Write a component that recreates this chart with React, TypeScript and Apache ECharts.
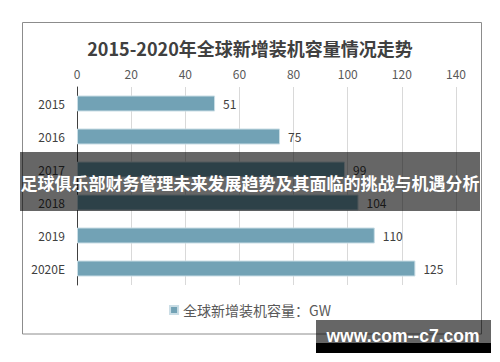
import React, { useEffect, useRef } from "react";
import * as echarts from "echarts";

const categories = ["2015", "2016", "2017", "2018", "2019", "2020E"];
const values = [51, 75, 99, 104, 110, 125];
const seriesName = "全球新增装机容量：GW";
const titleText = "2015-2020年全球新增装机容量情况走势";
const bannerText = "足球俱乐部财务管理未来发展趋势及其面临的挑战与机遇分析";
const watermarkText = "www.com--c7.com";

const FONT = "'Noto Sans CJK SC', 'Noto Sans', sans-serif";

export default function App() {
  const ref = useRef<HTMLDivElement>(null);
  useEffect(() => {
    document.body.style.margin = "0";
    const chart = echarts.init(ref.current!, undefined, { renderer: "svg" });
    chart.setOption({
      animation: false,
      backgroundColor: "#ffffff",
      textStyle: { fontFamily: FONT },
      title: {
        text: titleText,
        left: "center",
        top: 34,
        textStyle: { fontSize: 18, fontWeight: "bold", color: "#404040", fontFamily: FONT },
      },
      grid: { left: 77, right: 44, top: 87, bottom: 77, containLabel: false },
      xAxis: {
        type: "value",
        position: "top",
        min: 0,
        max: 140,
        interval: 20,
        axisLine: { show: false },
        axisTick: { show: false },
        axisLabel: { color: "#595959", fontSize: 12, margin: 8, fontFamily: FONT },
        splitLine: { lineStyle: { color: "#d9d9d9", width: 1 } },
      },
      yAxis: {
        type: "category",
        inverse: true,
        data: categories,
        axisLine: { show: true, lineStyle: { color: "#404040", width: 1 } },
        axisTick: { show: false },
        axisLabel: { color: "#404040", fontSize: 12, margin: 12, fontFamily: FONT },
      },
      legend: {
        bottom: 40,
        left: "center",
        icon: "rect",
        itemWidth: 8,
        itemHeight: 8,
        itemGap: 6,
        textStyle: { fontSize: 14, color: "#595959", fontFamily: FONT },
        data: [seriesName],
      },
      series: [
        {
          name: seriesName,
          type: "bar",
          data: values,
          barWidth: 16,
          itemStyle: { color: "#72a2b5", borderColor: "#c9dde5", borderWidth: 1 },
          label: {
            show: true,
            position: "right",
            distance: 8,
            color: "#404040",
            fontSize: 12,
            fontFamily: FONT,
          },
        },
      ],
      graphic: [
        {
          type: "rect",
          z: 90,
          shape: { x: 22.5, y: 22.5, width: 459, height: 311.5 },
          style: { fill: "none", stroke: "#8c8c8c", lineWidth: 1 },
        },
        {
          type: "rect",
          z: 100,
          shape: { x: 20, y: 152, width: 460, height: 59 },
          style: { fill: "rgba(0,0,0,0.6)" },
        },
        {
          type: "text",
          z: 101,
          x: 250,
          y: 182,
          style: {
            text: bannerText,
            fill: "#ffffff",
            fontSize: 17,
            fontWeight: "bold",
            fontFamily: FONT,
            align: "center",
            verticalAlign: "middle",
          },
        },
        {
          type: "rect",
          z: 100,
          shape: { x: 316, y: 320, width: 175, height: 23 },
          style: { fill: "rgba(0,0,0,0.6)" },
        },
        {
          type: "rect",
          z: 100,
          shape: { x: 316, y: 343, width: 175, height: 10 },
          style: { fill: "#000000" },
        },
        {
          type: "text",
          z: 101,
          x: 403,
          y: 336,
          style: {
            text: watermarkText,
            fill: "#ffffff",
            fontSize: 17.5,
            fontWeight: "bold",
            fontFamily: "'Liberation Sans', 'DejaVu Sans', sans-serif",
            align: "center",
            verticalAlign: "middle",
          },
        },
      ],
    });
    return () => chart.dispose();
  }, []);
  return (
    <div
      ref={ref}
      style={{ position: "fixed", left: 0, top: 0, width: 500, height: 362 }}
    />
  );
}
